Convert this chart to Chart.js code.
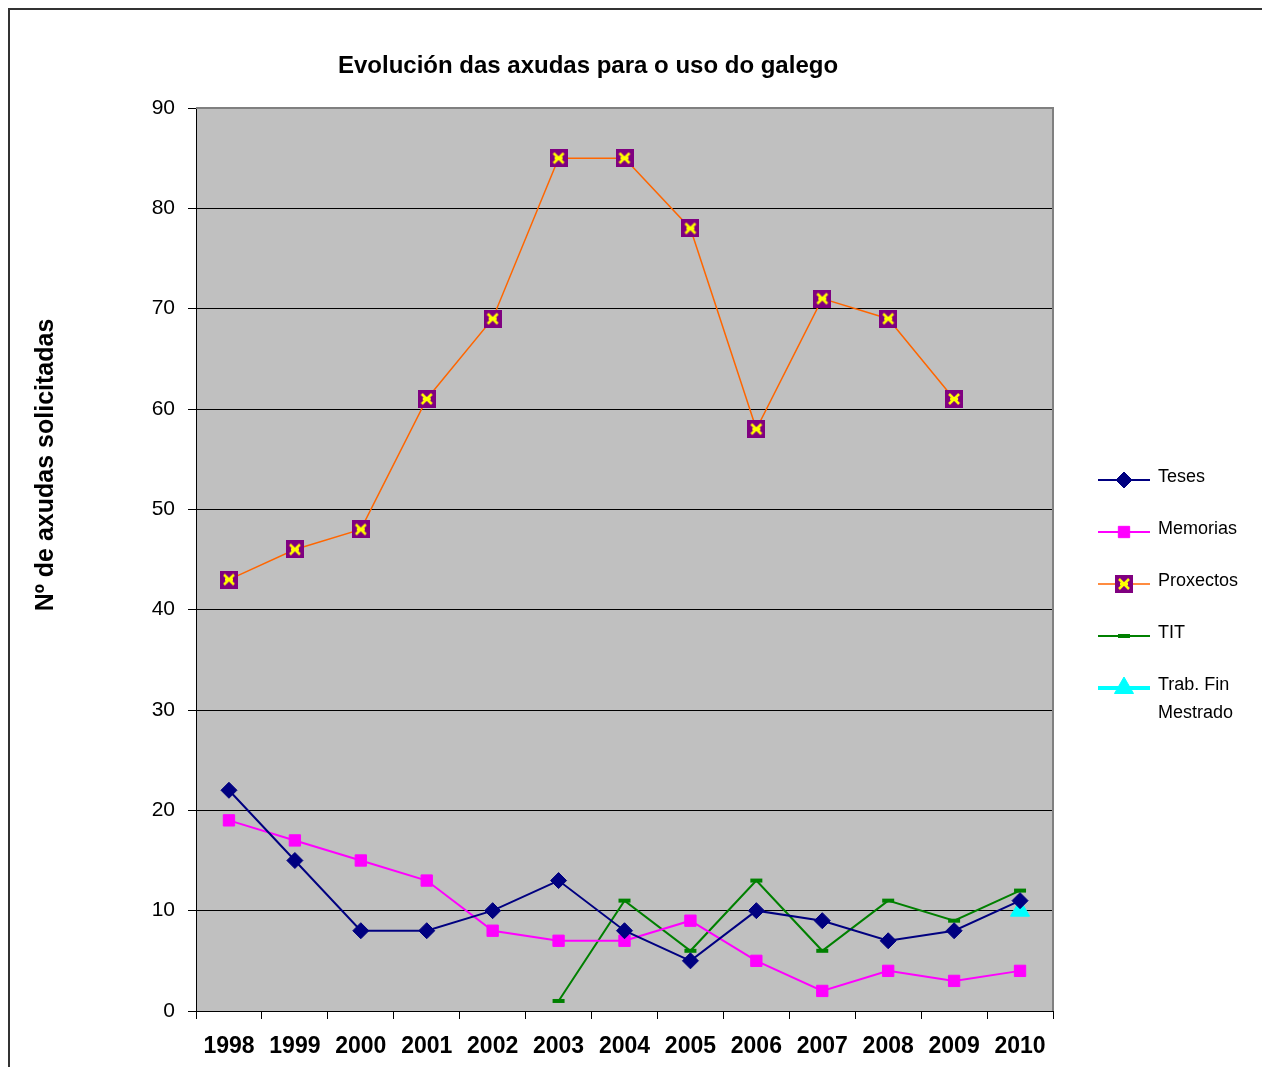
<!DOCTYPE html>
<html><head><meta charset="utf-8">
<script src="https://cdn.jsdelivr.net/npm/chart.js@4/dist/chart.umd.min.js"></script>
<style>
html,body{margin:0;padding:0;background:#fff;overflow:hidden}
#wrap{position:relative;width:1262px;height:1067px;overflow:hidden}
#frame{position:absolute;left:8px;top:8px;width:1400px;height:1200px;border-top:2px solid #333;border-left:2px solid #333}
canvas{position:absolute;left:0;top:0}
</style></head><body>
<div id="wrap"><div id="frame"></div><canvas id="c" width="1262" height="1067" style="width:1262px;height:1067px"></canvas></div>
<script>
const chartTitle = 'Evolución das axudas para o uso do galego';
const yAxisTitle = 'Nº de axudas solicitadas';
const years = ['1998','1999','2000','2001','2002','2003','2004','2005','2006','2007','2008','2009','2010'];
const teses = [22,15,8,8,10,13,8,5,10,9,7,8,11];
const memorias = [19,17,15,13,8,7,7,9,5,2,4,3,4];
const proxectos = [43,46,48,61,69,85,85,78,58,71,69,61,null];
const tit = [null,null,null,null,null,1,11,6,13,6,11,9,12];
const trabFin = [null,null,null,null,null,null,null,null,null,null,null,null,10];
const yMin = 0, yMax = 90, yStep = 10;

const FONT = '"Liberation Sans", Arial, sans-serif';

function makeStar(){
  const s = 18, c = document.createElement('canvas');
  c.width = s; c.height = s;
  const g = c.getContext('2d');
  g.fillStyle = '#800080'; g.fillRect(0,0,s,s);
  g.strokeStyle = '#FFFF00'; g.lineWidth = 2.5;
  g.beginPath();
  g.moveTo(4,4); g.lineTo(14,14);
  g.moveTo(14,4); g.lineTo(4,14);
  g.moveTo(5,9); g.lineTo(13,9);
  g.stroke();
  return c;
}
const starImg = makeStar();

const bgPlugin = {
  id:'bg',
  beforeDraw(chart){
    const {ctx, chartArea:a} = chart;
    ctx.save();
    ctx.fillStyle = '#C0C0C0';
    ctx.fillRect(a.left, a.top, a.right-a.left, a.bottom-a.top);
    ctx.restore();
  },
  beforeDatasetsDraw(chart){
    const {ctx, chartArea:a} = chart;
    ctx.save();
    ctx.strokeStyle = '#808080'; ctx.lineWidth = 2;
    ctx.beginPath();
    ctx.moveTo(a.left, a.top); ctx.lineTo(a.right, a.top); ctx.lineTo(a.right, a.bottom);
    ctx.stroke();
    ctx.restore();
  },
  afterDraw(chart){
    const ctx = chart.ctx;
    ctx.save();
    ctx.fillStyle = '#000';
    ctx.font = 'bold 24px ' + FONT;
    ctx.textAlign = 'center'; ctx.textBaseline = 'middle';
    ctx.fillText(chartTitle, 588, 66);
    ctx.translate(46, 465);
    ctx.rotate(-Math.PI/2);
    ctx.font = 'bold 25px ' + FONT;
    ctx.fillText(yAxisTitle, 0, 0);
    ctx.restore();
    // legend
    ctx.save();
    const x0 = 1098, x1 = 1150, mx = 1124, tx = 1158;
    chart.data.datasets.forEach((ds, i) => {
      const ty = 477 + 52*i, ly = ty + 3;
      ctx.strokeStyle = ds.borderColor;
      ctx.lineWidth = ds.legendLineWidth || ds.borderWidth;
      ctx.beginPath(); ctx.moveTo(x0, ly); ctx.lineTo(x1, ly); ctx.stroke();
      ctx.fillStyle = ds.pointBackgroundColor || ds.backgroundColor;
      ctx.strokeStyle = ds.pointBorderColor || ds.borderColor;
      ctx.lineWidth = ds.pointBorderWidth || 1;
      Chart.helpers.drawPoint(ctx, {pointStyle: ds.pointStyle, radius: ds.pointRadius, rotation: 0, borderWidth: ds.pointBorderWidth || 1}, mx, ly);
      ctx.fillStyle = '#000';
      ctx.font = '18px ' + FONT;
      ctx.textAlign = 'left'; ctx.textBaseline = 'middle';
      const lines = ds.legendLines || [ds.label];
      lines.forEach((t, k) => ctx.fillText(t, tx, ty + 28*k));
    });
    ctx.restore();
  }
};

new Chart(document.getElementById('c'), {
  type:'line',
  data:{
    labels: years,
    datasets:[
      {label:'Teses', data:teses, borderColor:'#000080', backgroundColor:'#000080', borderWidth:2,
       pointStyle:'rectRot', pointRadius:8, pointBorderWidth:1, pointBackgroundColor:'#000080', pointBorderColor:'#000080'},
      {label:'Memorias', data:memorias, borderColor:'#FF00FF', backgroundColor:'#FF00FF', borderWidth:2,
       pointStyle:'rect', pointRadius:8, pointBorderWidth:1, pointBackgroundColor:'#FF00FF', pointBorderColor:'#FF00FF'},
      {label:'Proxectos', data:proxectos, borderColor:'#FF6600', backgroundColor:'#800080', borderWidth:1.5,
       pointStyle:starImg, pointRadius:9, pointBorderWidth:1},
      {label:'TIT', data:tit, borderColor:'#008000', backgroundColor:'#008000', borderWidth:2,
       pointStyle:'line', pointRadius:6, pointBorderWidth:4, pointBorderColor:'#008000', pointBackgroundColor:'#008000'},
      {label:'Trab. Fin Mestrado', legendLines:['Trab. Fin','Mestrado'], data:trabFin, borderColor:'#00FFFF', backgroundColor:'#00FFFF', borderWidth:2, legendLineWidth:4,
       pointStyle:'triangle', pointRadius:11, pointBorderWidth:1, pointBackgroundColor:'#00FFFF', pointBorderColor:'#00FFFF'}
    ]
  },
  options:{
    responsive:false, animation:false, devicePixelRatio:1,
    layout:{padding:{left:0,right:209,top:108,bottom:0}},
    plugins:{legend:{display:false}, title:{display:false}, tooltip:{enabled:false}},
    scales:{
      x:{type:'category', offset:true,
        grid:{offset:true, drawOnChartArea:false, drawTicks:true, tickLength:8, color:'#000', lineWidth:1},
        border:{display:true, color:'#000', width:1},
        ticks:{font:{family:FONT, size:23, weight:'bold'}, color:'#000', padding:14, maxRotation:0, autoSkip:false},
        afterFit(s){ s.height = 56; }
      },
      y:{min:yMin, max:yMax,
        ticks:{stepSize:yStep, font:{family:FONT, size:21}, color:'#000', padding:13},
        grid:{color:'#000', lineWidth:1, tickLength:8, drawTicks:true},
        border:{display:true, color:'#000', width:1},
        afterFit(s){ s.width = 196; }
      }
    }
  },
  plugins:[bgPlugin]
});
</script>
</body></html>
